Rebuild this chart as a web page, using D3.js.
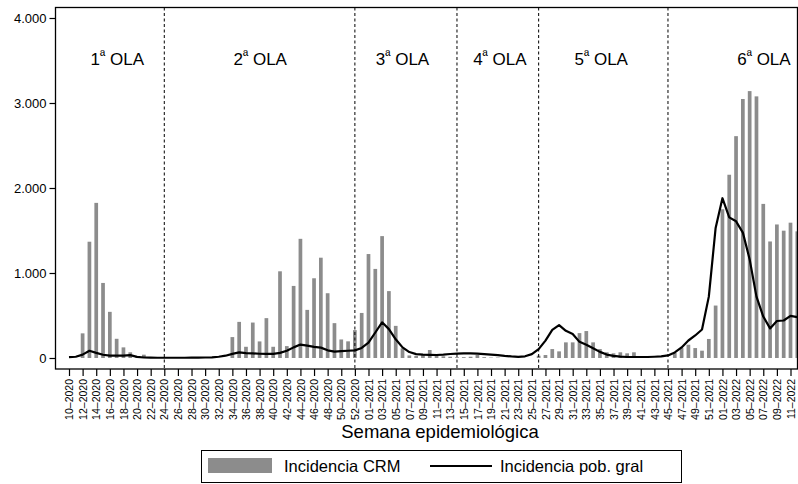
<!DOCTYPE html>
<html>
<head>
<meta charset="utf-8">
<script src="https://cdn.jsdelivr.net/npm/d3@7"></script>
<style>
  body { margin: 0; background: #fff; }
  text { font-family: "Liberation Sans", Arial, Helvetica, sans-serif; fill: #000; }
</style>
</head>
<body>
<div id="chart"></div>
<script>
/* Epidemiological weeks, 10-2020 .. 12-2022 */
const weeks = [
  "10-2020","11-2020","12-2020","13-2020","14-2020","15-2020","16-2020","17-2020","18-2020","19-2020",
  "20-2020","21-2020","22-2020","23-2020","24-2020","25-2020","26-2020","27-2020","28-2020","29-2020",
  "30-2020","31-2020","32-2020","33-2020","34-2020","35-2020","36-2020","37-2020","38-2020","39-2020",
  "40-2020","41-2020","42-2020","43-2020","44-2020","45-2020","46-2020","47-2020","48-2020","49-2020",
  "50-2020","51-2020","52-2020","53-2020",
  "01-2021","02-2021","03-2021","04-2021","05-2021","06-2021","07-2021","08-2021","09-2021","10-2021",
  "11-2021","12-2021","13-2021","14-2021","15-2021","16-2021","17-2021","18-2021","19-2021","20-2021",
  "21-2021","22-2021","23-2021","24-2021","25-2021","26-2021","27-2021","28-2021","29-2021","30-2021",
  "31-2021","32-2021","33-2021","34-2021","35-2021","36-2021","37-2021","38-2021","39-2021","40-2021",
  "41-2021","42-2021","43-2021","44-2021","45-2021","46-2021","47-2021","48-2021","49-2021","50-2021",
  "51-2021","52-2021",
  "01-2022","02-2022","03-2022","04-2022","05-2022","06-2022","07-2022","08-2022","09-2022","10-2022",
  "11-2022","12-2022"
];

/* Incidencia CRM (bars) */
const crm = [
  0, 0, 290, 1368, 1825, 883, 543, 226, 125, 67,
  10, 39, 0, 0, 0, 0, 0, 0, 0, 0,
  0, 0, 0, 0, 246, 425, 132, 417, 195, 469,
  132, 1020, 140, 848, 1402, 566, 938, 1180, 762, 410,
  218, 196, 328, 530,
  1223, 1048, 1434, 787, 378, 114, 30, 25, 45, 94,
  30, 20, 15, 10, 10, 15, 35, 10, 5, 5,
  0, 0, 0, 0, 0, 27, 35, 105, 78, 184,
  184, 293, 317, 184, 105, 67, 55, 67, 55, 67,
  0, 0, 0, 0, 0, 60, 117, 156, 117, 86,
  224, 617,
  1750, 2156, 2610, 3047, 3140, 3078, 1813, 1371, 1571, 1498,
  1592, 1490
];

/* Incidencia poblacion general (line) */
const pob = [
  10, 15, 40, 85, 60, 38, 28, 28, 28, 33,
  14, 6, 4, 3, 3, 3, 3, 3, 4, 5,
  6, 8, 15, 27, 48, 66, 58, 54, 50, 48,
  48, 60, 86, 125, 158, 145, 130, 122, 90, 75,
  80, 85, 90, 118,
  180, 300, 420, 340, 220, 125, 70, 45, 40, 37,
  35, 40, 47, 52, 55, 55, 52, 46, 40, 34,
  25, 18, 14, 20, 45, 105, 205, 330, 387, 320,
  282, 190, 155, 115, 72, 40, 25, 16, 12, 12,
  12, 12, 15, 19, 30, 66, 124, 206, 265, 335,
  722, 1530,
  1880, 1655, 1608, 1475, 1160, 722, 488, 348, 435, 441,
  495, 481
];

/* wave boundaries (first week of each new wave) and labels */
const waveStarts = ["24-2020", "52-2020", "14-2021", "26-2021", "45-2021"];
const waveNames = ["1", "2", "3", "4", "5", "6"];
const waveLabelAt = [7.1, 28.1, 49, 63.3, 78.2, 102.1];

const yTicks = [0, 1000, 2000, 3000, 4000];

const W = 798, H = 484;
const frame = {left: 55.5, top: 7.5, right: 797.5, bottom: 369};

const svg = d3.select("#chart").append("svg")
    .attr("width", W)
    .attr("height", H);

const x = d3.scaleLinear().domain([0, 106]).range([69, 790.5]);
const y = d3.scaleLinear().domain([0, 4000]).range([358, 18]);

const loc = d3.formatLocale({decimal: ",", thousands: ".", grouping: [3], currency: ["", ""]});
const fmt = loc.format(",");

svg.append("defs").append("clipPath").attr("id", "plotclip")
  .append("rect")
    .attr("x", frame.left).attr("y", frame.top)
    .attr("width", frame.right - frame.left).attr("height", frame.bottom - frame.top);

const plot = svg.append("g").attr("clip-path", "url(#plotclip)");

/* bars */
const barW = 3.7;
plot.selectAll("rect.bar")
  .data(crm)
  .enter().append("rect")
    .attr("class", "bar")
    .attr("x", (d, i) => x(i) - barW / 2)
    .attr("y", d => y(d))
    .attr("width", barW)
    .attr("height", d => y(0) - y(d))
    .attr("fill", "#8c8c8c");

/* wave separators */
plot.selectAll("line.wave")
  .data(waveStarts)
  .enter().append("line")
    .attr("class", "wave")
    .attr("x1", d => x(weeks.indexOf(d)))
    .attr("x2", d => x(weeks.indexOf(d)))
    .attr("y1", frame.top)
    .attr("y2", frame.bottom)
    .attr("stroke", "#000")
    .attr("stroke-width", 1)
    .attr("stroke-dasharray", "3,2.5");

/* line */
const valueline = d3.line()
    .x((d, i) => x(i))
    .y(d => y(d));

plot.append("path")
    .datum(pob)
    .attr("d", valueline)
    .attr("fill", "none")
    .attr("stroke", "#000")
    .attr("stroke-width", 2.2)
    .attr("stroke-linejoin", "round");

/* frame */
svg.append("rect")
    .attr("x", frame.left).attr("y", frame.top)
    .attr("width", frame.right - frame.left).attr("height", frame.bottom - frame.top)
    .attr("fill", "none")
    .attr("stroke", "#000")
    .attr("stroke-width", 1.3);

/* wave labels */
const wl = svg.selectAll("text.ola")
  .data(waveNames)
  .enter().append("text")
    .attr("class", "ola")
    .attr("x", (d, i) => x(waveLabelAt[i]))
    .attr("y", 65)
    .attr("text-anchor", "middle")
    .style("font-size", "17px");
wl.append("tspan").text(d => d);
wl.append("tspan").text("ª").style("font-size", "14px").attr("dy", -4);
wl.append("tspan").text(" OLA").attr("dy", 4);

/* y axis */
const yAxis = svg.append("g")
    .attr("transform", "translate(" + frame.left + ",0)")
    .call(d3.axisLeft(y).tickValues(yTicks).tickFormat(fmt).tickSize(6).tickPadding(3));
yAxis.select(".domain").remove();
yAxis.selectAll("line").attr("stroke", "#000").attr("stroke-width", 1.2);
yAxis.selectAll("text").style("font-size", "13px").attr("fill", "#000");

/* x axis */
const xAxis = svg.append("g")
    .attr("transform", "translate(0," + frame.bottom + ")")
    .call(d3.axisBottom(x)
        .tickValues(d3.range(0, weeks.length, 2))
        .tickFormat(i => weeks[i].replace("-", "\u2013"))
        .tickSize(7));
xAxis.select(".domain").remove();
xAxis.selectAll("line").attr("stroke", "#000").attr("stroke-width", 1.2);
xAxis.selectAll("text")
    .style("font-size", "10.5px")
    .attr("fill", "#000")
    .attr("text-anchor", "end")
    .attr("transform", "rotate(-90)")
    .attr("x", -10)
    .attr("y", 0)
    .attr("dy", "0.35em");

/* x title */
svg.append("text")
    .attr("x", 440)
    .attr("y", 438)
    .attr("text-anchor", "middle")
    .style("font-size", "18.5px")
    .text("Semana epidemiológica");

/* legend */
const lg = svg.append("g");
lg.append("rect")
    .attr("x", 201.5).attr("y", 450.5)
    .attr("width", 480).attr("height", 32)
    .attr("fill", "#fff")
    .attr("stroke", "#000")
    .attr("stroke-width", 1);
lg.append("rect")
    .attr("x", 208).attr("y", 458)
    .attr("width", 64).attr("height", 15)
    .attr("fill", "#8c8c8c");
lg.append("text")
    .attr("x", 284).attr("y", 472)
    .style("font-size", "16.5px")
    .text("Incidencia CRM");
lg.append("line")
    .attr("x1", 430).attr("x2", 492)
    .attr("y1", 466).attr("y2", 466)
    .attr("stroke", "#000")
    .attr("stroke-width", 2);
lg.append("text")
    .attr("x", 500).attr("y", 472)
    .style("font-size", "16.5px")
    .text("Incidencia pob. gral");
</script>
</body>
</html>
